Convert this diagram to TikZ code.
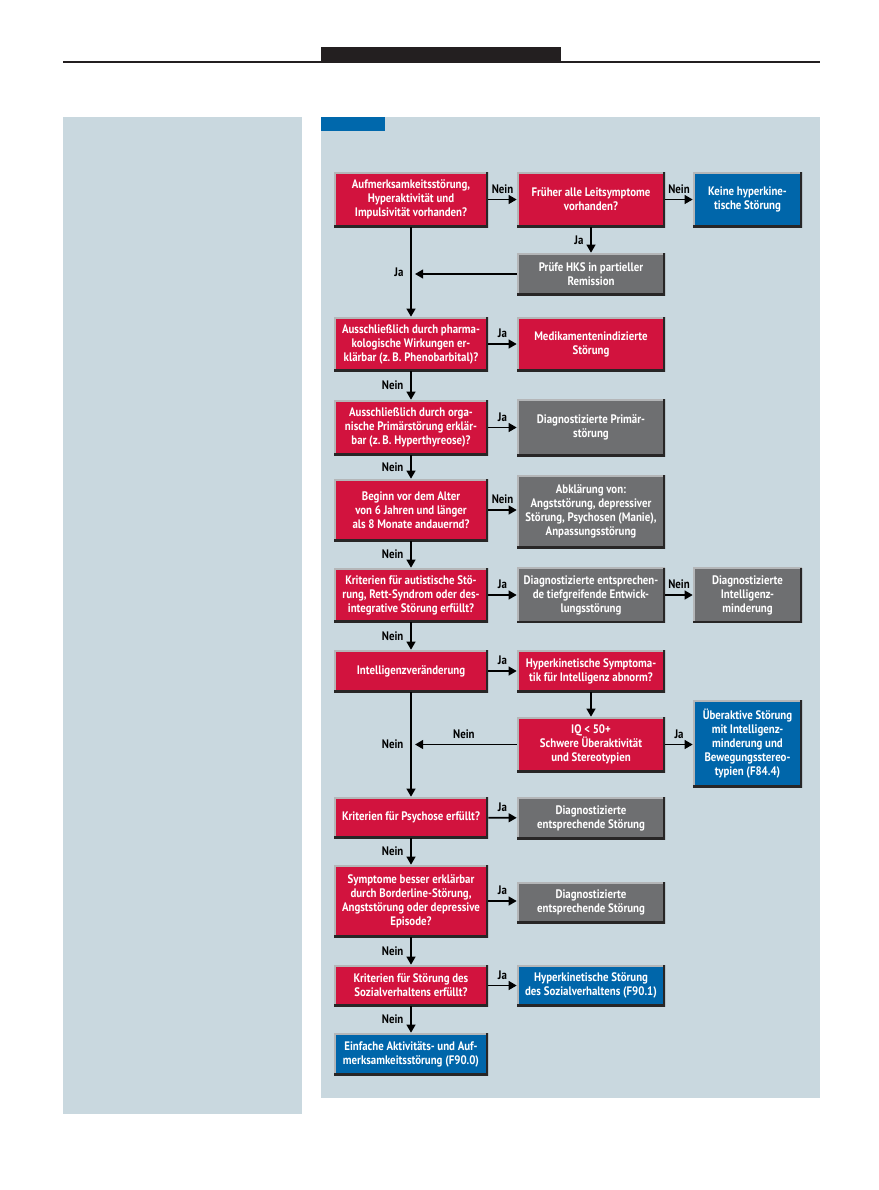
\documentclass[tikz,border=0pt]{standalone}
\usepackage{fontspec}
\setmainfont{PT Sans}[FakeStretch=0.88]
\usetikzlibrary{positioning,arrows.meta,calc}
\definecolor{panelblue}{RGB}{201,216,223}
\definecolor{tabblue}{RGB}{0,104,172}
\definecolor{askred}{RGB}{210,19,62}
\definecolor{diaggray}{RGB}{110,111,113}
\definecolor{resblue}{RGB}{0,102,170}
\definecolor{bevlight}{RGB}{180,182,184}
\definecolor{bevdark}{RGB}{40,38,38}
\definecolor{hdrblack}{RGB}{35,31,32}
\tikzset{
  base/.style ={rectangle, inner xsep=3pt, inner ysep=0pt, align=center, text=white,
                font=\fontsize{9.25}{10.5}\selectfont\bfseries,
                path picture={
                  \draw[bevlight, line width=2.4pt] (path picture bounding box.south west)
                    |- (path picture bounding box.north east);
                  \draw[bevdark, line width=2.6pt] (path picture bounding box.south west)
                    -| (path picture bounding box.north east);}},
  ask/.style  ={base, fill=askred},
  diag/.style ={base, fill=diaggray},
  res/.style  ={base, fill=resblue},
  wl/.style   ={minimum width=115.5pt},
  wm/.style   ={minimum width=111pt},
  wr/.style   ={minimum width=81.75pt},
  ht/.style   ={minimum height=#1*0.75pt},
  lab/.style  ={font=\fontsize{9.25}{10}\selectfont\bfseries, text=black, inner sep=2pt},
  flow/.style ={-{Triangle[length=6pt, width=6.5pt]}, line width=1.4pt, draw=black},
}

\begin{document}
\begin{tikzpicture}[x=0.75pt, y=-0.75pt]
\useasboundingbox (0,0) rectangle (879,1190);
% page head and panels
\draw[line width=1.5pt, hdrblack] (63,62) -- (820,62);
\fill[hdrblack] (321,47) rectangle (561,62);
\fill[panelblue] (63,117) rectangle (302,1114);
\fill[panelblue] (321,117) rectangle (820,1098);
\fill[tabblue] (321,117) rectangle (385,131);

% left column
\node[ask, wl, ht=55] (q1) at (411,199.5) {Aufmerksamkeitsstörung,\\ Hyperaktivität und\\ Impulsivität vorhanden?};
\node[ask, wl, ht=54] (q2) at (411,344) {Ausschließlich durch pharma-\\ kologische Wirkungen er-\\ klärbar (z.\,B. Phenobarbital)?};
\node[ask, wl, ht=55] (q3) at (411,427.5) {Ausschließlich durch orga-\\ nische Primärstörung erklär-\\ bar (z.\,B. Hyperthyreose)?};
\node[ask, wl, ht=62] (q4) at (411,510) {Beginn vor dem Alter\\ von 6 Jahren und länger\\ als 8 Monate andauernd?};
\node[ask, wl, ht=54] (q5) at (411,595) {Kriterien für autistische Stö-\\ rung, Rett-Syndrom oder des-\\ integrative Störung erfüllt?};
\node[ask, wl, ht=42] (q6) at (411,671) {Intelligenzveränderung};
\node[ask, wl, ht=41] (q7) at (411,817.5) {Kriterien für Psychose erfüllt?};
\node[ask, wl, ht=72] (q8) at (411,901) {Symptome besser erklärbar\\ durch Borderline-Störung,\\ Angststörung oder depressive\\ Episode?};
\node[ask, wl, ht=41] (q9) at (411,985.5) {Kriterien für Störung des\\ Sozialverhaltens erfüllt?};
\node[res, wl, ht=42] (e10) at (411,1054) {Einfache Aktivitäts- und Auf-\\ merksamkeitsstörung (F90.0)};

% middle column
\node[ask, wm, ht=55] (n1) at (591,199.5) {Früher alle Leitsymptome\\ vorhanden?};
\node[diag, wm, ht=42] (g1) at (591,274) {Prüfe HKS in partieller\\ Remission};
\node[ask, wm, ht=54] (r2) at (591,344) {Medikamentenindizierte\\ Störung};
\node[diag, wm, ht=57] (g3) at (591,427.5) {Diagnostizierte Primär-\\ störung};
\node[diag, wm, ht=73] (g4) at (591,511.5) {Abklärung von:\\ Angststörung, depressiver\\ Störung, Psychosen (Manie),\\ Anpassungsstörung};
\node[diag, wm, ht=55] (g5) at (591,595) {Diagnostizierte entsprechen-\\ de tiefgreifende Entwick-\\ lungsstörung};
\node[ask, wm, ht=42] (r6) at (591,671) {Hyperkinetische Symptoma-\\ tik für Intelligenz abnorm?};
\node[ask, wm, ht=55] (iq) at (591,744.5) {IQ < 50+\\ Schwere Überaktivität\\ und Stereotypien};
\node[diag, wm, ht=42] (g7) at (591,818) {Diagnostizierte\\ entsprechende Störung};
\node[diag, wm, ht=41] (g8) at (591,902.5) {Diagnostizierte\\ entsprechende Störung};
\node[res, wm, ht=41] (e9) at (591,985.5) {Hyperkinetische Störung\\ des Sozialverhaltens (F90.1)};

% right column
\node[res, wr, ht=55] (e1) at (747.5,199.5) {Keine hyperkine-\\ tische Störung};
\node[diag, wr, ht=55] (g5b) at (747.5,595) {Diagnostizierte\\ Intelligenz-\\ minderung};
\node[res, wr, ht=87] (e6) at (747.5,743.5) {Überaktive Störung\\ mit Intelligenz-\\ minderung und\\ Bewegungsstereo-\\ typien (F84.4)};

\coordinate (j1) at (q1.south |- g1.west);
\coordinate (j2) at (q1.south |- iq.west);

% connectors
\draw[flow] (q1) -- node[lab, above=2pt] {Nein} (n1);
\draw[flow] (n1) -- node[lab, above=2pt] {Nein} (e1);
\draw[flow] (n1) -- node[lab, left=3pt] {Ja} (g1);
\draw[flow, shorten >=3pt] (g1) -- (j1);
\draw[flow] (q1) -- node[lab, left=3pt] {Ja} (q2);
\draw[flow] (q2) -- node[lab, above=2pt] {Ja} (r2);
\draw[flow] (q2) -- node[lab, left=3pt] {Nein} (q3);
\draw[flow] (q3) -- node[lab, above=2pt] {Ja} (g3);
\draw[flow] (q3) -- node[lab, left=3pt] {Nein} (q4);
\draw[flow] (q4.east) -- node[lab, above=2pt] {Nein} (q4.east -| g4.west);
\draw[flow] (q4) -- node[lab, left=3pt] {Nein} (q5);
\draw[flow] (q5) -- node[lab, above=2pt] {Ja} (g5);
\draw[flow] (g5) -- node[lab, above=2pt] {Nein} (g5b);
\draw[flow] (q5) -- node[lab, left=3pt] {Nein} (q6);
\draw[flow] (q6) -- node[lab, above=2pt] {Ja} (r6);
\draw[flow] (r6) -- (iq);
\draw[flow] (iq.east) -- node[lab, above=2pt] {Ja} (iq.east -| e6.west);
\draw[flow, shorten >=3pt] (iq) -- node[lab, above=2pt] {Nein} (j2);
\draw[flow] (q6) -- node[lab, left=3pt] {Nein} (q7);
\draw[flow] (q7) -- node[lab, above=2pt] {Ja} (g7);
\draw[flow] (q7) -- node[lab, left=3pt] {Nein} (q8);
\draw[flow] (q8.east) -- node[lab, above=2pt] {Ja} (q8.east -| g8.west);
\draw[flow] (q8) -- node[lab, left=3pt] {Nein} (q9);
\draw[flow] (q9) -- node[lab, above=2pt] {Ja} (e9);
\draw[flow] (q9) -- node[lab, left=3pt] {Nein} (e10);
\end{tikzpicture}
\end{document}
